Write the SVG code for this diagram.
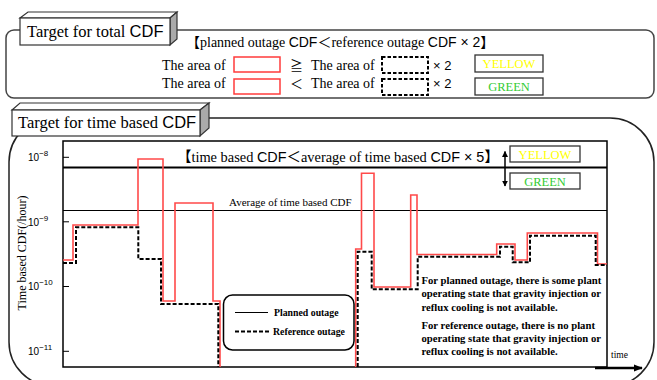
<svg xmlns="http://www.w3.org/2000/svg" width="657" height="380" viewBox="0 0 657 380">
<style>
.serif{font-family:"Liberation Serif","Times New Roman",serif;fill:#000}
.sans{font-family:"Liberation Sans",Arial,sans-serif;fill:#000}
.cjk{font-family:"Noto Sans CJK JP","Liberation Sans",sans-serif}
.panel{fill:none;stroke:#444;stroke-width:1.5}
.face{fill:#fff;stroke:#333;stroke-width:1.2}
.side{fill:#aaa;stroke:#333;stroke-width:1.2}
.redbox{fill:#fff;stroke:#ff3b3b;stroke-width:1.5}
.dashbox{fill:#fff;stroke:#000;stroke-width:2;stroke-dasharray:3.5,2}
.colbox{fill:#fff;stroke:#333;stroke-width:1.3}
.frame{fill:none;stroke:#000;stroke-width:1.5}
.red{fill:none;stroke:#ff4a4a;stroke-width:1.6}
.ref{fill:none;stroke:#000;stroke-width:2;stroke-dasharray:4,2}
.note{font-family:"Liberation Serif","Times New Roman",serif;font-weight:bold;font-size:10.7px;fill:#000}
</style>
<defs>
<marker id="ah" viewBox="0 0 10 10" refX="9" refY="5" markerWidth="6" markerHeight="6" orient="auto-start-reverse" markerUnits="userSpaceOnUse">
<path d="M0,0 L10,5 L0,10 z" fill="#000"/>
</marker>
<marker id="ahBig" viewBox="0 0 10 10" refX="9" refY="5" markerWidth="9" markerHeight="9" orient="auto" markerUnits="userSpaceOnUse">
<path d="M0,1 L10,5 L0,9 z" fill="#000"/>
</marker>
</defs>

<!-- Top panel -->
<g id="panel-total">
<rect class="panel" x="6" y="30" width="648" height="68" rx="8"/>
<g id="label-total">
<polygon class="face" points="20,18 28,12 177,12 170,18"/>
<polygon class="side" points="170,18 177,12 177,39 170,45"/>
<rect class="face" x="20" y="18" width="150" height="27"/>
<text class="serif" x="27" y="37" font-size="16.5">Target for total <tspan class="sans">CDF</tspan></text>
</g>
<text class="serif" x="186" y="47" font-size="14"><tspan class="cjk">【</tspan>planned outage <tspan class="sans">CDF</tspan><tspan class="cjk">＜</tspan>reference outage <tspan class="sans">CDF × 2</tspan><tspan class="cjk">】</tspan></text>
<g id="row-yellow">
<text class="serif" x="162" y="70" font-size="14">The area of</text>
<rect class="redbox" x="234" y="57" width="46" height="15"/>
<text class="cjk" x="290" y="70" font-size="13">≧</text>
<text class="serif" x="311" y="70" font-size="14">The area of</text>
<rect class="dashbox" x="382" y="57" width="46" height="16"/>
<text class="sans" x="433" y="70" font-size="13">× 2</text>
<rect class="colbox" x="475" y="55" width="68" height="17"/>
<text class="serif" x="509" y="68" font-size="12.5" text-anchor="middle" style="fill:#ffff00">YELLOW</text>
</g>
<g id="row-green">
<text class="serif" x="162" y="88" font-size="14">The area of</text>
<rect class="redbox" x="234" y="79" width="46" height="15"/>
<text class="cjk" x="290" y="88" font-size="13">＜</text>
<text class="serif" x="311" y="88" font-size="14">The area of</text>
<rect class="dashbox" x="382" y="79" width="46" height="16"/>
<text class="sans" x="433" y="88" font-size="13">× 2</text>
<rect class="colbox" x="475" y="78" width="68" height="17"/>
<text class="serif" x="509" y="91" font-size="12.5" text-anchor="middle" style="fill:#33cc33">GREEN</text>
</g>
</g>

<!-- Bottom panel -->
<g id="panel-time">
<rect class="panel" x="9" y="118" width="645" height="268" rx="44" style="stroke:#222"/>
<g id="label-time">
<polygon class="face" points="12,110 20,103 209,103 200,110"/>
<polygon class="side" points="200,110 209,103 209,128 200,136"/>
<rect class="face" x="12" y="110" width="188" height="26"/>
<text class="serif" x="18" y="128" font-size="16.5">Target for time based <tspan class="sans">CDF</tspan></text>
</g>
</g>

<g id="chart">
<rect class="frame" x="63" y="141" width="544" height="226"/>
<line x1="63" y1="167.5" x2="607" y2="167.5" stroke="#000" stroke-width="2"/>
<line x1="63" y1="210.5" x2="607" y2="210.5" stroke="#000" stroke-width="1"/>
<g stroke="#000" stroke-width="1">
<line x1="63" y1="157.3" x2="69" y2="157.3"/>
<line x1="63" y1="221.8" x2="69" y2="221.8"/>
<line x1="63" y1="286.5" x2="69" y2="286.5"/>
<line x1="63" y1="351.3" x2="69" y2="351.3"/>
</g>
<g class="sans" font-size="10">
<text x="28" y="161">10<tspan font-size="8" dy="-5">−8</tspan></text>
<text x="28" y="225.5">10<tspan font-size="8" dy="-5">−9</tspan></text>
<text x="28" y="290">10<tspan font-size="8" dy="-5">−10</tspan></text>
<text x="28" y="355">10<tspan font-size="8" dy="-5">−11</tspan></text>
</g>
<text class="serif" font-size="12" text-anchor="middle" transform="translate(26,253) rotate(-90)">Time based CDF(/hour)</text>
<text class="serif" x="177" y="162" font-size="14.4"><tspan class="cjk">【</tspan>time based <tspan class="sans">CDF</tspan><tspan class="cjk">＜</tspan>average of time based <tspan class="sans">CDF × 5</tspan><tspan class="cjk">】</tspan></text>
<text class="serif" x="229" y="206" font-size="11">Average of time based CDF</text>
<g id="zone-yellow">
<rect class="colbox" x="510" y="146" width="70" height="16"/>
<text class="serif" x="545" y="158.5" font-size="12.5" text-anchor="middle" style="fill:#ffff00">YELLOW</text>
</g>
<g id="zone-green">
<rect class="colbox" x="510" y="173" width="70" height="16"/>
<text class="serif" x="545" y="185.5" font-size="12.5" text-anchor="middle" style="fill:#33cc33">GREEN</text>
</g>
<text class="serif" x="611" y="358" font-size="9.5">time</text>
</g>

<g id="connectors">
<line x1="505" y1="168" x2="505" y2="151.5" stroke="#000" stroke-width="1.5" marker-end="url(#ah)"/>
<line x1="505" y1="168" x2="505" y2="186" stroke="#000" stroke-width="1.5" marker-end="url(#ah)"/>
<line x1="595" y1="368" x2="642" y2="368" stroke="#000" stroke-width="2.5" marker-end="url(#ahBig)"/>
</g>

<g id="series-planned">
<path class="red" d="M63,260 H73 V225 H138 V159 H163 V301 H175 V203 H213 V301 H220 V367"/>
<path class="red" d="M355.7,367 V249 H361.5 V173.3 H374 V287 H410.7 V195 H417 V254.5 H496.7 V244 H515 V260 H527.3 V233 H597.5 V264 H607"/>
</g>
<g id="series-reference">
<path class="ref" d="M63,263 H76 V227.3 H138.3 V259 H161 V304 H218.3 V367"/>
<path class="ref" d="M357.7,367 V251.7 H371.7 V289.3 H417.7 V256.7 H500 V246.7 H512.7 V262.3 H530 V235.7 H595.7 V265 H607"/>
</g>

<g id="legend">
<rect x="223.5" y="295" width="130.5" height="55" rx="9" fill="#fff" stroke="#000" stroke-width="1.5"/>
<line x1="235" y1="312.5" x2="268" y2="312.5" stroke="#000" stroke-width="1.2"/>
<text class="note" x="274" y="316" style="font-size:9.8px">Planned outage</text>
<line x1="235" y1="331.5" x2="270" y2="331.5" stroke="#000" stroke-width="2" stroke-dasharray="4,2"/>
<text class="note" x="273" y="335" style="font-size:9.8px">Reference outage</text>
</g>

<g id="annotation">
<text class="note" x="421.5" y="284.3">For planned outage, there is some plant</text>
<text class="note" x="421.5" y="297.3">operating state that gravity injection or</text>
<text class="note" x="421.5" y="310.7">reflux cooling is not available.</text>
<text class="note" x="421.5" y="329.3">For reference outage, there is no plant</text>
<text class="note" x="421.5" y="342.3">operating state that gravity injection or</text>
<text class="note" x="421.5" y="355.3">reflux cooling is not available.</text>
</g>
</svg>
